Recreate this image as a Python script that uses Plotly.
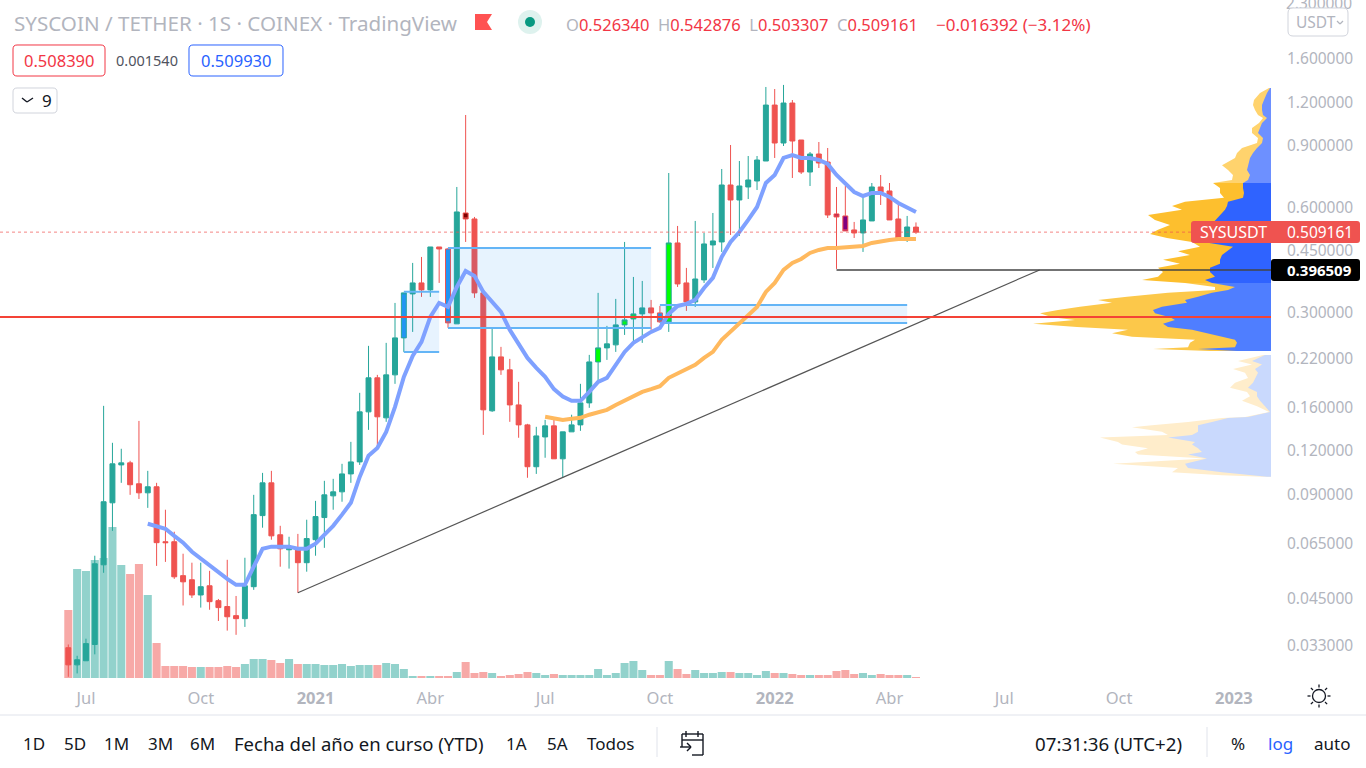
import math
import plotly.graph_objects as go

WIDTH = 1366
HEIGHT = 768
PLOT_RIGHT = 1271
PLOT_BOTTOM = 678

open_price = [.0326, .0291, .0299, .0333, .0564, .0850, .1092, .1107, .0964, .0908, .0945, .0657, .0657, .0525, .0511, .0462,
              .0491, .0445, .0428, .0403, .0395, .0488, .0781, .0970, .0688, .0623, .0631, .0572, .0666, .0771, .0890, .0914,
              .1029, .1114, .1551, .1943, .1491, .1981, .2530, .3384, .3639, .3475, .4616, .4556, .2776, .5780, .5555, .3407,
              .1562, .2231, .2048, .1624, .1423, .1079, .1314, .1414, .1137, .1359, .1423, .1646, .2158, .2368, .2416, .2757,
              .2868, .2965, .3085, .2984, .2813, .4740, .3639, .3209, .3712, .4678, .4772, .6955, .6299, .6864, .7142, .8151,
              1.180, .9181, 1.196, .9365, .7579, .8537, .8097, .5742, .5667, .5166, .5064, .5483, .6864, .6685, .5555, .4899,
              .52634]
high_price = [.0333, .0309, .0346, .0599, .1614, .1264, .1215, .1122, .1461, .1050, .0970, .0812, .0702, .0607, .0572, .0572,
              .0542, .0450, .0583, .0459, .0591, .0896, .1036, .1050, .0730, .0679, .0692, .0760, .0861, .0983, .0996, .1100,
              .1272, .1759, .2400, .1981, .2448, .3188, .3407, .4154, .4321, .4616, .4616, .4586, .6864, 1.105, .5630, .3430,
              .2705, .2384, .2202, .1892, .1433, .1405, .1471, .1491, .1359, .1522, .1867, .2261, .3407, .2739, .3274, .4772,
              .3786, .3687, .3252, .3125, .7529, .5304, .4019, .5483, .5064, .5780, .7731, .9061, .8151, .8425, .8425, 1.330,
              1.312, 1.348, 1.220, .9365, .8651, .9242, .8883, .6864, .6909, .5447, .6510, .7047, .7430, .7047, .6135, .5667,
              .542876]
low_price = [.0269, .0275, .0299, .0312, .0535, .0706, .0970, .0896, .0872, .0822, .0560, .0575, .0514, .0431, .0453, .0425,
             .0419, .0389, .0365, .0355, .0374, .0478, .0721, .0666, .0557, .0550, .0469, .0539, .0599, .0631, .0812, .0856,
             .0970, .1092, .1377, .1231, .1452, .1867, .2306, .2632, .3318, .3318, .3639, .2705, .2776, .4772, .3296, .1332,
             .1551, .1981, .1452, .1307, .1003, .1029, .1145, .1137, .1003, .1359, .1368, .1593, .1892, .2187, .2306, .2580,
             .2416, .2448, .2667, .2794, .2632, .3544, .3024, .3105, .3639, .4019, .4467, .4998, .4965, .6340, .6729, .8151,
             .8315, .9001, .7285, .7480, .6909, .7782, .5592, .3992, .5132, .4899, .4467, .5483, .6094, .5519, .4835, .4772,
             .503307]
close_price = [.0291, .0301, .0335, .0568, .0856, .1100, .1107, .0958, .0908, .0945, .0653, .0653, .0521, .0504, .0462, .0488,
               .0442, .0425, .0400, .0395, .0491, .0786, .0970, .0683, .0627, .0631, .0572, .0671, .0776, .0896, .0914, .1029,
               .1114, .1551, .1943, .1501, .1981, .2530, .3407, .3639, .3475, .4616, .4556, .2794, .5819, .5555, .3407, .1572,
               .2231, .2048, .1624, .1423, .1079, .1323, .1414, .1137, .1359, .1423, .1646, .2158, .2368, .2432, .2757, .2850,
               .2965, .3085, .2984, .2813, .4740, .3615, .3209, .3735, .4709, .4803, .6955, .6299, .6909, .7189, .8205, 1.180,
               .9181, 1.196, .9303, .7579, .8537, .8044, .5704, .5630, .5132, .5064, .5519, .6864, .6641, .5519, .4899, .5268,
               .509161]
volume = [68, 109, 107, 118, 120, 151, 113, 104, 114, 83, 35, 12, 12, 12, 11, 11, 11, 11, 12, 11, 14, 19, 19, 18, 15, 19, 14, 14,
          14, 13, 13, 14, 12, 13, 13, 13, 15, 14, 9, 2, 2, 2, 2, 2, 6, 16, 5, 6, 5, 2, 3, 4, 6, 5, 3, 4, 3, 3, 3, 3, 9, 3, 5, 15,
          17, 8, 3, 3, 17, 9, 4, 8, 5, 5, 6, 6, 5, 5, 3, 7, 5, 5, 4, 3, 3, 3, 3, 7, 8, 4, 5, 3, 4, 3, 3, 3, 1]

fast_ma_start = 9
fast_ma = [.0740, .0726, .0716, .0683, .0653, .0615, .0587, .0560, .0539, .0514, .0494, .0494, .0557, .0627, .0636, .0636,
           .0636, .0627, .0627, .0649, .0688, .0730, .0786, .0850, .1009, .1160, .1222, .1359, .1603, .1955, .2246, .2464,
           .2906, .3188, .3105, .3544, .3940, .3812, .3430, .3209, .3004, .2667, .2416, .2216, .2076, .1955, .1803, .1717,
           .1668, .1668, .1770, .1892, .1943, .2116, .2306, .2448, .2546, .2632, .2703, .2965, .3125, .3168, .3252, .3520,
           .3762, .4321, .4772, .5098, .5519, .6014, .7047, .7430, .8315, .8481, .8315, .8315, .8205, .7991, .7430, .7047,
           .6641, .6467, .6597, .6597, .6425, .6175, .5975, .5819]
slow_ma_start = 54
slow_ma = [.1501, .1481, .1471, .1481, .1491, .1522, .1542, .1572, .1624, .1668, .1724, .1770, .1802, .1838, .1943, .1995,
           .2048, .2116, .2216, .2306, .2497, .2632, .2776, .2944, .3105, .3430, .3639, .3966, .4154, .4264, .4437, .4526,
           .4586, .4586, .4616, .4647, .4647, .4740, .4803, .4835, .4867, .4867, .4867]

# candles painted by hand on the original chart: fill colour -> week indexes
painted_candles = {
    "#2196f3": [38, 43, 67],
    "#00ff00": [60, 63, 64, 68],
    "#800000": [45],
    "#800080": [88],
    "#b0144f": [87],
}

# supply / demand boxes
zone_start = [38, 43, 67]
zone_end = [42, 66, 95]
zone_top = [.3430, .4586, .3147]
zone_bottom = [.2306, .2703, .2794]

trend_x = [26, 110]
trend_y = [.0469, .3965]
last_price = .509161
support_price = .396509
support_start = 87
red_level = .2906

x_tick_vals = [2, 15, 28, 41, 54, 67, 80, 93, 106, 119, 132]
x_tick_text = ["Jul", "Oct", "<b>2021</b>", "Abr", "Jul", "Oct", "<b>2022</b>", "Abr", "Jul", "Oct", "<b>2023</b>"]
y_tick_vals = [1.6, 1.2, .9, .6, .45, .3, .22, .16, .12, .09, .065, .045, .033]
top_tick_text = "2.300000"

# visible range volume profile, top to bottom
profile_price = [1.321, 1.278, 1.220, 1.180, 1.142, 1.105, 1.083, 1.048, 1.014, .981, .949, .918, .888, .860, .832, .793, .768,
                 .743, .719, .705, .682, .660, .639, .622, .605, .590, .570, .552, .534, .517, .503, .490, .477, .462, .449,
                 .438, .424, .413, .402, .391, .379, .371, .364, .354, .3475, .341, .332, .325, .319, .311, .304, .298, .290,
                 .285, .278, .272, .267, .261, .255, .250, .245, .238, .235, .232, .226, .217, .212, .206, .201, .194, .188,
                 .182, .177, .172, .167, .161, .155, .150, .149, .145, .142, .140, .136, .133, .131, .127, .125, .122, .119,
                 .117, .114, .110, .107, .104, .102, .101]
profile_total = [2, 11, 17, 18, 16, 13, 8, 12, 19, 19, 13, 14, 29, 34, 36, 49, 43, 38, 39, 58, 51, 51, 47, 86, 99, 89, 123, 116,
                 101, 113, 121, 104, 79, 71, 93, 81, 108, 91, 113, 108, 113, 129, 86, 56, 56, 103, 144, 173, 159, 191, 213,
                 231, 219, 196, 238, 194, 143, 159, 139, 76, 81, 83, 118, 61, 8, 33, 19, 38, 26, 23, 36, 41, 24, 21, 29, 14,
                 2, 26, 49, 83, 119, 139, 109, 103, 171, 153, 149, 123, 136, 133, 66, 158, 93, 99, 49, 8]
profile_up = [1, 4, 7, 9, 9, 8, 4, 9, 11, 13, 8, 9, 14, 18, 21, 23, 24, 21, 23, 28, 28, 27, 28, 43, 44, 46, 51, 56, 60, 58, 61,
              64, 68, 38, 44, 49, 51, 51, 61, 61, 56, 66, 59, 36, 43, 59, 73, 86, 84, 109, 118, 116, 101, 96, 108, 103, 79,
              63, 49, 36, 34, 36, 73, 34, 6, 19, 9, 16, 13, 16, 18, 23, 14, 14, 11, 6, 1, 23, 43, 59, 73, 73, 73, 79, 103,
              76, 79, 73, 69, 83, 64, 86, 83, 49, 16, 4]
# row slices of the profile with their colours: (first, last, up colour, total colour)
profile_bands = [(0, 19, "#6d90ff", "#ffd36d"),
                 (19, 42, "#2f63ff", "#fdbf2e"),
                 (42, 63, "#4f7eff", "#fcc84a"),
                 (64, 95, "#c9d9fd", "#ffedcb")]

GREEN = "#26a69a"
RED = "#ef5350"
FONT = "Noto Sans"
TICK_GREY = "#b2b5be"
INK = "#131722"


def px(x):
    return x / WIDTH


def py(y):
    return (HEIGHT - y) / HEIGHT


def rounded(x0, y0, x1, y1, r):
    p = [(x0 + r, y0), (x1 - r, y0), (x1, y0), (x1, y0 + r), (x1, y1 - r), (x1, y1), (x1 - r, y1), (x0 + r, y1), (x0, y1),
         (x0, y1 - r), (x0, y0 + r), (x0, y0), (x0 + r, y0)]
    c = [f"{px(a):.5f},{py(b):.5f}" for a, b in p]
    return (f"M{c[0]} L{c[1]} Q{c[2]} {c[3]} L{c[4]} Q{c[5]} {c[6]} L{c[7]} Q{c[8]} {c[9]} L{c[10]} Q{c[11]} {c[12]} Z")


def box(x0, y0, x1, y1, r=4, fill="white", line="rgba(0,0,0,0)", width=1):
    return dict(type="path", xref="paper", yref="paper", path=rounded(x0, y0, x1, y1, r), fillcolor=fill,
                line=dict(color=line, width=width), layer="above")


def seg(x0, y0, x1, y1, color=INK, width=1.4):
    return dict(type="line", xref="paper", yref="paper", x0=px(x0), y0=py(y0), x1=px(x1), y1=py(y1),
                line=dict(color=color, width=width), layer="above")


def circle(cx, cy, r, fill="rgba(0,0,0,0)", line="rgba(0,0,0,0)", width=1):
    return dict(type="circle", xref="paper", yref="paper", x0=px(cx - r), x1=px(cx + r), y0=py(cy - r), y1=py(cy + r),
                fillcolor=fill, line=dict(color=line, width=width), layer="above")


def label(x, y, text, size=17, color=INK, anchor="left"):
    return dict(xref="paper", yref="paper", x=px(x), y=py(y), text=text, showarrow=False, xanchor=anchor, yanchor="middle",
                font=dict(family=FONT, size=size, color=color), borderpad=0, align=anchor)


weeks = list(range(len(close_price)))
painted = {i for idx in painted_candles.values() for i in idx}
plain = [i for i in weeks if i not in painted]


def candle_trace(idx, up_fill, down_fill):
    return go.Candlestick(
        x=idx, xaxis="x2", yaxis="y2",
        open=[open_price[i] for i in idx], high=[high_price[i] for i in idx],
        low=[low_price[i] for i in idx], close=[close_price[i] for i in idx],
        increasing=dict(line=dict(color=GREEN, width=1), fillcolor=up_fill),
        decreasing=dict(line=dict(color=RED, width=1), fillcolor=down_fill),
        whiskerwidth=0, hoverinfo="skip", showlegend=False)


fig = go.Figure()

# empty trace keeps xy as the main subplot, the others overlay it
fig.add_trace(go.Scatter(x=[], y=[], xaxis="x", yaxis="y", showlegend=False))

# volume profile first so everything else lies on top of it
for first, last, up_color, total_color in profile_bands:
    ys = profile_price[first:last + 1]
    for widths, color in ((profile_total, total_color), (profile_up, up_color)):
        fig.add_trace(go.Scatter(x=widths[first:last + 1], y=ys, xaxis="x", yaxis="y2", mode="lines",
                                 line=dict(width=0), fill="tozerox", fillcolor=color,
                                 hoverinfo="skip", showlegend=False))

fig.add_trace(go.Bar(x=weeks, y=volume, xaxis="x2", yaxis="y",
                     marker=dict(color=["rgba(38,166,154,0.5)" if close_price[i] >= open_price[i] else "rgba(239,83,80,0.5)"
                                        for i in weeks], line=dict(width=0)),
                     hoverinfo="skip", showlegend=False))

fig.add_trace(candle_trace(plain, GREEN, RED))
for color, idx in painted_candles.items():
    fig.add_trace(candle_trace(idx, color, color))

for x0, x1, top, bottom in zip(zone_start, zone_end, zone_top, zone_bottom):
    fig.add_trace(go.Scatter(x=[x0, x1, x1, x0, x0], y=[top, top, bottom, bottom, top], xaxis="x2", yaxis="y2", mode="lines",
                             line=dict(width=0), fill="toself", fillcolor="rgba(33,150,243,0.11)",
                             hoverinfo="skip", showlegend=False))
    fig.add_trace(go.Scatter(x=[x0, x1, None, x0, x1], y=[top, top, None, bottom, bottom], xaxis="x2", yaxis="y2", mode="lines",
                             line=dict(color="#64b5f6", width=2), hoverinfo="skip", showlegend=False))

fig.add_trace(go.Scatter(x=weeks[fast_ma_start:], y=fast_ma, xaxis="x2", yaxis="y2", mode="lines",
                         line=dict(color="#7fa1ff", width=4), hoverinfo="skip", showlegend=False))
fig.add_trace(go.Scatter(x=weeks[slow_ma_start:], y=slow_ma, xaxis="x2", yaxis="y2", mode="lines",
                         line=dict(color="#ffb95e", width=4), hoverinfo="skip", showlegend=False))

x_min = -68.3 / 8.83
x_max = (PLOT_RIGHT - 68.3) / 8.83

fig.add_trace(go.Scatter(x=trend_x, y=trend_y, xaxis="x2", yaxis="y2", mode="lines",
                         line=dict(color="#555555", width=1.2), hoverinfo="skip", showlegend=False))
fig.add_trace(go.Scatter(x=[support_start, x_max], y=[support_price, support_price], xaxis="x2", yaxis="y2", mode="lines",
                         line=dict(color="#444444", width=1.4), hoverinfo="skip", showlegend=False))
fig.add_trace(go.Scatter(x=[x_min, x_max], y=[red_level, red_level], xaxis="x2", yaxis="y2", mode="lines",
                         line=dict(color="#f44336", width=2), hoverinfo="skip", showlegend=False))
fig.add_trace(go.Scatter(x=[x_min, x_max], y=[last_price, last_price], xaxis="x2", yaxis="y2", mode="lines",
                         line=dict(color="rgba(239,83,80,0.7)", width=1, dash="dot"), hoverinfo="skip", showlegend=False))

shapes = [
    seg(0, 715, WIDTH, 715, "#e0e3eb", 1),
    seg(657, 727, 657, 757, "#e0e3eb", 1),
    seg(1207, 727, 1207, 757, "#e0e3eb", 1),
    # header flag and market dot
    dict(type="path", xref="paper", yref="paper", fillcolor="#ff5252", line=dict(width=0), layer="above",
         path=f"M{px(475)},{py(14)} L{px(492)},{py(14)} L{px(487)},{py(22)} L{px(492)},{py(30)} L{px(475)},{py(30)} Z"),
    circle(530, 22, 12, fill="#def2ee"),
    circle(530, 22, 5, fill="#089981"),
    # value boxes
    box(13, 45, 105, 76, 4, "white", "#f23645"),
    box(189, 45, 283, 76, 4, "white", "#2962ff"),
    box(13, 88, 57, 113, 4, "white", "#d1d4dc"),
    # top price label sits behind the USDT button, so it goes in as a shape label just before it
    dict(type="rect", xref="paper", yref="paper", x0=px(1286), x1=px(1352), y0=py(10), y1=py(-2),
         line=dict(width=0), fillcolor="rgba(0,0,0,0)", layer="above",
         label=dict(text=top_tick_text, textposition="middle center",
                    font=dict(family=FONT, size=15.5, color=TICK_GREY))),
    box(1288, 8, 1348, 36, 5, "white", "#d1d4dc"),
    # price tags
    box(1191, 221, 1360, 243, 3, RED),
    box(1271, 259, 1360, 281, 3, "#000000"),
    # sun
    circle(1319, 696, 6.5, line=INK, width=1.3),
    # calendar with arrow
    seg(682, 747, 682, 734), seg(682, 734, 703, 734), seg(703, 734, 703, 755), seg(703, 755, 692, 755),
    seg(682, 740, 703, 740), seg(686, 731, 686, 737), seg(698, 731, 698, 737),
    seg(680, 747, 691, 747), seg(687, 743, 691, 747), seg(687, 751, 691, 747),
    # chevrons in the indicators button and the USDT button
    seg(22, 98, 27, 102), seg(27, 102, 33, 98),
    seg(1337, 21, 1340, 24, TICK_GREY, 1.2), seg(1340, 24, 1343, 21, TICK_GREY, 1.2),
]
for k in range(8):
    a = k * math.pi / 4
    shapes.append(seg(1319 + 8.5 * math.cos(a), 696 + 8.5 * math.sin(a),
                      1319 + 11.5 * math.cos(a), 696 + 11.5 * math.sin(a), INK, 1.3))


def grey(s):
    return f'<span style="color:{TICK_GREY}">{s}</span>'


header = grey("O") + "0.526340  " + grey("H") + "0.542876  " + grey("L") + "0.503307  " + grey("C") + "0.509161"

annotations = [
    label(13, 23, "SYSCOIN / TETHER · 1S · COINEX · TradingView", 20.6, TICK_GREY),
    label(565, 24, header, 16.5, "#f23645"),
    label(935, 24, "−0.016392 (−3.12%)", 17, "#f23645"),
    label(59, 60, "0.508390", 16.5, "#f23645", "center"),
    label(147, 60, "0.001540", 14.5, "#50535e", "center"),
    label(236, 60, "0.509930", 16.5, "#2962ff", "center"),
    label(41, 100, "9", 17, INK),
    label(1295, 22, "USDT", 15.5, TICK_GREY),
    label(1199, 232, "SYSUSDT", 16, "white"),
    label(1286, 232, "0.509161", 15.5, "white"),
    label(1286, 270, "<b>0.396509</b>", 15, "white"),
    label(21.5, 743, "1D"),
    label(62.5, 743, "5D"),
    label(103, 743, "1M"),
    label(146.5, 743, "3M"),
    label(188.5, 743, "6M"),
    label(233, 743, "Fecha del año en curso (YTD)", 18.5),
    label(504.5, 743, "1A"),
    label(545.5, 743, "5A"),
    label(586, 743, "Todos"),
    label(1034, 743, "07:31:36 (UTC+2)", 18.7),
    label(1230, 743, "%"),
    label(1267, 743, "log", 17, "#2962ff"),
    label(1313, 743, "auto"),
]

domain_x = [0, PLOT_RIGHT / WIDTH]
domain_y = [(HEIGHT - PLOT_BOTTOM) / HEIGHT, 1]

fig.update_layout(
    width=WIDTH, height=HEIGHT, margin=dict(l=0, r=0, t=0, b=0), paper_bgcolor="white", plot_bgcolor="rgba(0,0,0,0)",
    font=dict(family=FONT, size=15, color=TICK_GREY), showlegend=False, bargap=0.09, boxmode="overlay", boxgap=0.2,
    hovermode=False, shapes=shapes, annotations=annotations,
    xaxis=dict(domain=domain_x, range=[PLOT_RIGHT, 0], visible=False, fixedrange=True),
    xaxis2=dict(domain=domain_x, range=[x_min, x_max], overlaying="x", anchor="y", side="bottom", tickmode="array",
                tickvals=x_tick_vals, ticktext=x_tick_text, ticks="", showgrid=False, zeroline=False, showline=False,
                rangeslider=dict(visible=False), fixedrange=True, ticklabelstandoff=8,
                tickfont=dict(family=FONT, size=16.5, color=TICK_GREY)),
    yaxis=dict(domain=domain_y, range=[0, PLOT_BOTTOM], visible=False, fixedrange=True),
    yaxis2=dict(domain=domain_y, type="log", range=[math.log10(.02668), math.log10(2.364)], overlaying="y", anchor="x",
                side="right", tickmode="array", tickvals=y_tick_vals, ticktext=[f"{v:.6f}" for v in y_tick_vals], ticks="",
                showgrid=False, zeroline=False, showline=False, fixedrange=True, ticklabelstandoff=15,
                tickfont=dict(family=FONT, size=15.5, color=TICK_GREY)),
)

fig.write_html("out.html", config=dict(displayModeBar=False),
               post_script="document.body.style.margin='0';document.body.style.overflow='hidden';")
